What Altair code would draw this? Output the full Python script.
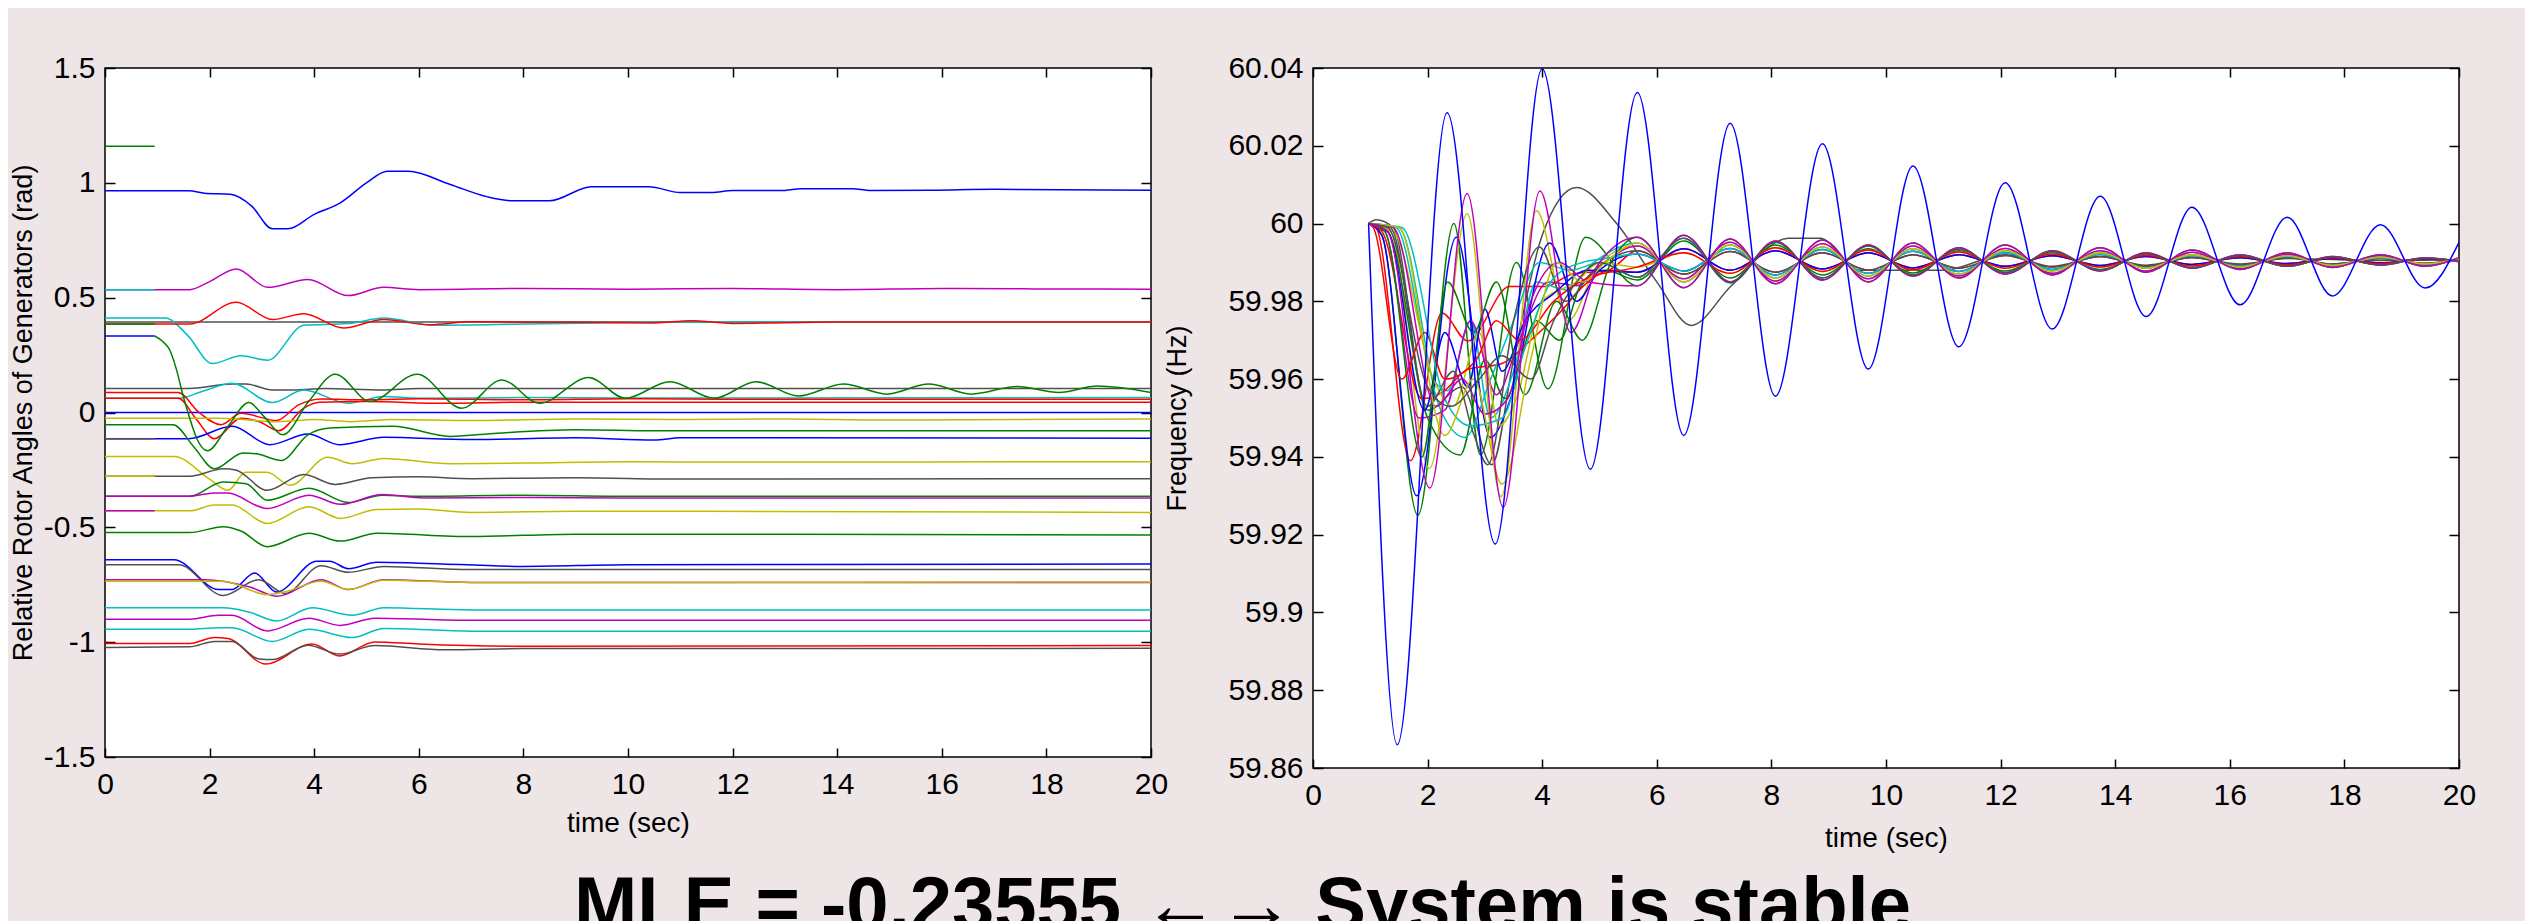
import altair as alt
import pandas as pd

BG = "#EEE5E6"
COLORS = {"b": "#0000FF", "g": "#008000", "r": "#FF0000", "c": "#00BFBF",
          "m": "#BF00BF", "y": "#BFBF00", "k": "#505050"}
FONT = "Liberation Sans"

X_TICKS = [0, 2, 4, 6, 8, 10, 12, 14, 16, 18, 20]
ANG_TICKS = [-1.5, -1.0, -0.5, 0.0, 0.5, 1.0, 1.5]
FREQ_TICKS = [59.86, 59.88, 59.90, 59.92, 59.94, 59.96, 59.98, 60.00, 60.02, 60.04]

# ---------------- Left panel: relative rotor angles (rad) ----------------
ang_green_seg = [(0, 1.159), (0.95, 1.159)]
ang_blue_top = [(0, 0.965), (1.6, 0.965), (1.9, 0.955), (2.4, 0.95), (2.8, 0.9), (3.2, 0.8), (3.5, 0.8),
                (4.0, 0.863), (4.5, 0.913), (5.0, 1.0), (5.4, 1.05), (5.8, 1.05), (6.6, 0.993), (7.3, 0.94),
                (7.8, 0.922), (8.5, 0.922), (9.3, 0.983), (10.4, 0.983), (11.0, 0.958), (11.6, 0.958),
                (12.0, 0.967), (13.0, 0.967), (13.3, 0.974), (14.3, 0.974), (14.6, 0.967), (15.8, 0.968),
                (17.0, 0.972), (20.0, 0.968)]
ang_cyan_seg = [(0, 0.535), (0.95, 0.535)]
ang_magenta_053 = [(0, 0.535), (1.62, 0.535), (2.0, 0.57), (2.51, 0.625), (3.11, 0.545), (3.88, 0.579),
                   (4.65, 0.509), (5.33, 0.545), (6.0, 0.535), (8.0, 0.54), (10.0, 0.537), (12.0, 0.54),
                   (14.0, 0.535), (16.0, 0.54), (18.0, 0.538), (20.0, 0.537)]
ang_gray_039 = [(0, 0.394), (20.0, 0.394)]
ang_cyan_041 = [(0, 0.411), (1.15, 0.411), (1.58, 0.336), (2.05, 0.213), (2.6, 0.247), (3.11, 0.228),
                (3.8, 0.38), (4.65, 0.387), (5.33, 0.411), (6.3, 0.38), (8.0, 0.385), (10.0, 0.392),
                (12.0, 0.394), (20.0, 0.394)]
ang_green_seg2 = [(0, 0.385), (0.95, 0.385)]
ang_red_0385 = [(0, 0.385), (1.62, 0.385), (2.51, 0.48), (3.2, 0.405), (3.8, 0.43), (4.56, 0.368),
                (5.33, 0.405), (6.2, 0.382), (7.0, 0.395), (9.0, 0.393), (10.5, 0.39), (11.2, 0.4),
                (12.0, 0.388), (14.0, 0.394), (20.0, 0.394)]
ang_blue_seg = [(0, 0.333), (0.95, 0.333)]
ang_green_osc = [(0.95, 0.333), (1.1, 0.31), (1.24, 0.271), (1.36, 0.192), (1.49, 0.076), (1.62, -0.025),
                 (1.75, -0.111), (1.96, -0.166), (2.35, -0.06), (2.75, 0.043), (3.05, -0.02), (3.4, -0.097),
                 (3.9, 0.05), (4.4, 0.167), (5.07, 0.048), (5.97, 0.167), (6.82, 0.019), (7.59, 0.141),
                 (8.31, 0.04), (9.25, 0.152), (9.95, 0.062), (10.8, 0.134), (11.65, 0.062), (12.45, 0.134),
                 (13.26, 0.072), (14.12, 0.124), (14.95, 0.08), (15.75, 0.124), (16.56, 0.08),
                 (17.44, 0.113), (18.24, 0.087), (18.97, 0.115), (20.0, 0.087)]
ang_gray_0105 = [(0, 0.105), (1.6, 0.105), (2.43, 0.124), (2.7, 0.124), (3.2, 0.098), (3.6, 0.098),
                 (4.2, 0.105), (5.3, 0.098), (6.0, 0.105), (20.0, 0.104)]
ang_red1 = [(0, 0.087), (1.4, 0.087), (1.8, 0.0), (2.22, -0.053), (2.6, -0.003), (3.28, -0.035),
            (3.7, 0.033), (4.13, 0.059), (5.0, 0.055), (6.0, 0.06), (8.0, 0.055), (10.0, 0.06),
            (12.0, 0.058), (20.0, 0.058)]
ang_red2 = [(0, 0.062), (1.4, 0.062), (1.75, -0.03), (2.09, -0.114), (2.6, -0.025), (2.95, -0.04),
            (3.32, -0.079), (3.8, 0.019), (4.1, 0.045), (5.0, 0.048), (6.5, 0.04), (8.0, 0.045),
            (10.0, 0.045), (20.0, 0.045)]
ang_cyan_006 = [(0, 0.062), (1.4, 0.062), (1.9, 0.095), (2.43, 0.127), (3.2, 0.043), (3.8, 0.098),
                (4.65, 0.04), (5.33, 0.07), (6.0, 0.062), (8.0, 0.065), (10.0, 0.063), (20.0, 0.065)]
ang_blue_0 = [(0, 0.0), (20.0, 0.0)]
ang_yellow_0025 = [(0, -0.025), (2.2, -0.025), (3.3, -0.04), (4.0, -0.03), (4.7, -0.04), (5.5, -0.03),
                   (7.0, -0.035), (9.0, -0.028), (11.0, -0.03), (13.0, -0.028), (15.0, -0.033), (20.0, -0.028)]
ang_green_b = [(0, -0.053), (1.3, -0.053), (1.7, -0.15), (2.09, -0.245), (2.64, -0.176), (2.9, -0.18),
               (3.37, -0.209), (3.88, -0.097), (4.3, -0.068), (5.5, -0.06), (6.6, -0.104), (7.5, -0.09),
               (9.0, -0.075), (10.5, -0.08), (12.0, -0.08), (20.0, -0.08)]
ang_gray_seg = [(0, -0.114), (0.95, -0.114)]
ang_blue_0114 = [(0, -0.114), (1.6, -0.114), (2.43, -0.06), (3.15, -0.14), (3.88, -0.094), (4.48, -0.14),
                 (5.33, -0.108), (7.0, -0.118), (9.0, -0.11), (10.5, -0.12), (11.0, -0.11), (20.0, -0.112)]
ang_yellow_0195 = [(0, -0.192), (1.32, -0.192), (2.0, -0.29), (2.35, -0.339), (2.69, -0.26), (3.1, -0.26),
                   (3.54, -0.317), (4.26, -0.195), (4.73, -0.223), (5.33, -0.2), (6.6, -0.223),
                   (8.0, -0.22), (10.0, -0.214), (12.0, -0.216), (20.0, -0.214)]
ang_yellow_seg = [(0, -0.278), (0.95, -0.278)]
ang_gray_0281 = [(0, -0.278), (1.62, -0.278), (2.26, -0.245), (2.5, -0.25), (3.1, -0.339), (3.8, -0.27),
                 (4.4, -0.313), (5.1, -0.284), (6.0, -0.28), (7.0, -0.288), (9.0, -0.284), (11.0, -0.29),
                 (20.0, -0.288)]
ang_green_0365 = [(0, -0.365), (1.62, -0.365), (2.26, -0.303), (2.7, -0.31), (3.1, -0.382), (3.9, -0.33),
                  (4.65, -0.392), (5.3, -0.36), (6.0, -0.365), (8.0, -0.36), (10.0, -0.365), (20.0, -0.365)]
ang_magenta_0365 = [(0, -0.365), (1.62, -0.365), (2.09, -0.35), (2.35, -0.351), (3.1, -0.418),
                    (3.9, -0.36), (4.5, -0.4), (5.3, -0.357), (6.1, -0.372), (8.0, -0.37), (10.0, -0.372),
                    (20.0, -0.372)]
ang_magenta_seg = [(0, -0.428), (0.95, -0.428)]
ang_yellow_0428 = [(0, -0.428), (1.62, -0.428), (2.09, -0.403), (2.43, -0.403), (3.1, -0.483),
                   (3.9, -0.41), (4.5, -0.461), (5.2, -0.422), (6.0, -0.42), (7.0, -0.435), (9.0, -0.43),
                   (20.0, -0.435)]
ang_green_0523 = [(0, -0.523), (1.62, -0.523), (2.26, -0.497), (2.6, -0.516), (3.1, -0.584), (3.9, -0.526),
                  (4.5, -0.56), (5.2, -0.526), (7.0, -0.54), (9.0, -0.53), (20.0, -0.533)]
ang_blue_0641 = [(0, -0.641), (1.32, -0.641), (2.17, -0.771), (2.43, -0.771), (2.86, -0.699),
                 (3.28, -0.782), (4.05, -0.648), (4.3, -0.648), (4.65, -0.68), (5.2, -0.652), (6.0, -0.656),
                 (8.0, -0.67), (10.0, -0.663), (20.0, -0.66)]
ang_gray_0663 = [(0, -0.663), (1.41, -0.663), (2.26, -0.797), (2.94, -0.728), (3.45, -0.788),
                 (4.13, -0.667), (4.65, -0.696), (5.33, -0.67), (7.0, -0.684), (10.0, -0.684), (20.0, -0.684)]
ang_magenta_0728 = [(0, -0.728), (1.9, -0.728), (2.77, -0.76), (3.3, -0.8), (4.13, -0.728), (4.65, -0.771),
                    (5.33, -0.728), (7.0, -0.74), (20.0, -0.74)]
ang_yellow_0735 = [(0, -0.735), (2.26, -0.735), (3.1, -0.793), (3.45, -0.78), (4.13, -0.735),
                   (4.65, -0.771), (5.33, -0.73), (7.0, -0.74), (20.0, -0.738)]
ang_cyan_085 = [(0, -0.85), (2.26, -0.85), (2.77, -0.87), (3.28, -0.908), (3.96, -0.85), (4.73, -0.883),
                (5.33, -0.85), (7.0, -0.86), (20.0, -0.86)]
ang_magenta_090 = [(0, -0.9), (1.62, -0.9), (2.17, -0.883), (2.43, -0.883), (3.1, -0.951), (3.9, -0.896),
                   (4.5, -0.927), (5.16, -0.896), (7.0, -0.905), (20.0, -0.905)]
ang_cyan_0944 = [(0, -0.944), (1.62, -0.944), (2.17, -0.937), (2.43, -0.937), (3.2, -0.997), (3.9, -0.944),
                 (4.73, -0.98), (5.33, -0.94), (7.0, -0.952), (20.0, -0.953)]
ang_red_1006 = [(0, -1.006), (1.62, -1.006), (2.09, -0.98), (2.35, -0.984), (3.07, -1.095), (3.96, -1.008),
                (4.48, -1.06), (5.16, -0.999), (6.0, -1.008), (8.0, -1.018), (20.0, -1.015)]
ang_gray_1023 = [(0, -1.023), (1.62, -1.02), (2.09, -0.997), (2.43, -0.997), (2.94, -1.073), (3.2, -1.076),
                 (3.88, -1.013), (4.48, -1.052), (5.16, -1.015), (6.5, -1.033), (8.0, -1.028), (20.0, -1.027)]

ANGLE_SERIES = [
    ("k", ang_gray_039), ("b", ang_blue_0), ("b", ang_blue_top), ("m", ang_magenta_053),
    ("c", ang_cyan_041), ("r", ang_red_0385), ("k", ang_gray_0105), ("c", ang_cyan_006),
    ("r", ang_red1), ("r", ang_red2), ("y", ang_yellow_0025), ("b", ang_blue_0114),
    ("y", ang_yellow_0195), ("k", ang_gray_0281), ("g", ang_green_0365), ("m", ang_magenta_0365),
    ("y", ang_yellow_0428), ("g", ang_green_0523), ("b", ang_blue_0641), ("k", ang_gray_0663),
    ("m", ang_magenta_0728), ("y", ang_yellow_0735), ("c", ang_cyan_085), ("m", ang_magenta_090),
    ("c", ang_cyan_0944), ("r", ang_red_1006), ("k", ang_gray_1023), ("g", ang_green_b),
    ("g", ang_green_osc), ("g", ang_green_seg), ("c", ang_cyan_seg), ("g", ang_green_seg2),
    ("b", ang_blue_seg), ("k", ang_gray_seg), ("y", ang_yellow_seg), ("m", ang_magenta_seg),
]

# ---------------- Right panel: frequency (Hz) ----------------
freq_blue_main = [(0.97, 60.0), (1.47, 59.866), (2.34, 60.0285), (3.18, 59.9176), (4.0, 60.0398),
                  (4.84, 59.9368), (5.66, 60.0337), (6.47, 59.9455), (7.28, 60.0258), (8.07, 59.9556),
                  (8.89, 60.0205), (9.69, 59.9626), (10.47, 60.0148), (11.27, 59.9683), (12.08, 60.0105),
                  (12.9, 59.9729), (13.74, 60.007), (14.54, 59.9761), (15.34, 60.0042), (16.18, 59.9791),
                  (17.0, 60.0016), (17.79, 59.9814), (18.63, 59.9997), (19.41, 59.9834), (20.0, 59.9952)]
freq_gray_slow = [(0.97, 60.0), (1.1, 60.001), (1.4, 59.999), (2.0, 59.952), (2.6, 59.958), (3.12, 59.938),
                  (3.5, 59.965), (4.0, 59.997), (4.6, 60.0093), (5.3, 60.0), (6.0, 59.985), (6.6, 59.9738),
                  (7.3, 59.984), (8.3, 59.9962), (8.85, 59.9962), (9.5, 59.988), (11.0, 59.988),
                  (12.08, 59.992), (12.9, 59.989), (13.74, 59.9915), (14.54, 59.9893), (15.34, 59.9913),
                  (16.18, 59.9896), (17.0, 59.991), (18.6, 59.9905), (20.0, 59.9906)]

LATE_T = [5.66, 6.47, 7.28, 8.07, 8.89, 9.69, 10.47, 11.27, 12.08, 12.9, 13.74, 14.54, 15.34, 16.18,
          17.0, 17.79, 18.63, 19.41, 20.0]
LATE_A1 = [59.9965, 59.9835, 59.996, 59.9845, 59.9958, 59.985, 59.995, 59.986, 59.9945, 59.9868, 59.9938,
           59.9875, 59.9932, 59.9882, 59.9925, 59.9887, 59.992, 59.989, 59.9912]
LATE_A2 = [59.995, 59.985, 59.9945, 59.986, 59.994, 59.9865, 59.9935, 59.987, 59.993, 59.9878, 59.9925,
           59.9885, 59.992, 59.9888, 59.9917, 59.9892, 59.9914, 59.9896, 59.991]
LATE_A3 = [59.993, 59.987, 59.9928, 59.9875, 59.9925, 59.988, 59.992, 59.9885, 59.9918, 59.9888, 59.9915,
           59.989, 59.9913, 59.9893, 59.9912, 59.9896, 59.991, 59.9898, 59.9907]
LATE_A4 = [59.9942, 59.9858, 59.9952, 59.9852, 59.9948, 59.9858, 59.9942, 59.9865, 59.9936, 59.9872, 59.993,
           59.9878, 59.9926, 59.9884, 59.9921, 59.9888, 59.9917, 59.9893, 59.9909]
LATE_A5 = [59.9922, 59.9878, 59.9936, 59.9868, 59.9933, 59.9872, 59.9929, 59.9877, 59.9925, 59.9882, 59.9921,
           59.9886, 59.9918, 59.989, 59.9915, 59.9893, 59.9912, 59.9896, 59.9906]
LATE_B1 = [59.984, 59.997, 59.985, 59.9955, 59.9855, 59.9945, 59.9865, 59.9938, 59.987, 59.993, 59.9878,
           59.9925, 59.9885, 59.992, 59.989, 59.9915, 59.9893, 59.9912, 59.9902]
LATE_B2 = [59.9855, 59.9955, 59.986, 59.9945, 59.9868, 59.9935, 59.9873, 59.993, 59.9878, 59.9925, 59.9882,
           59.992, 59.9887, 59.9917, 59.989, 59.9914, 59.9895, 59.9911, 59.9903]
LATE_B3 = [59.9875, 59.9935, 59.988, 59.993, 59.9883, 59.9925, 59.9886, 59.992, 59.989, 59.9917, 59.9892,
           59.9915, 59.9895, 59.9912, 59.9897, 59.991, 59.9899, 59.9909, 59.9905]
LATE_B4 = [59.9862, 59.9962, 59.9848, 59.9952, 59.986, 59.9942, 59.9868, 59.9934, 59.9874, 59.9928, 59.988,
           59.9922, 59.9886, 59.9918, 59.9891, 59.9914, 59.9894, 59.9911, 59.9904]
LATE_B5 = [59.9888, 59.9925, 59.9872, 59.9938, 59.9877, 59.9932, 59.9881, 59.9927, 59.9885, 59.9922, 59.9888,
           59.9918, 59.9891, 59.9915, 59.9894, 59.9912, 59.9897, 59.991, 59.9904]

fq_t1 = [(0.97, 60.0), (1.2, 59.997), (1.83, 59.925), (2.46, 60.0), (2.92, 59.9405), (3.55, 59.99),
         (4.1, 59.9575), (4.76, 59.9965)]
fq_t2 = [(0.97, 60.0), (1.1, 59.999), (1.7, 59.939), (2.25, 59.977), (2.7, 59.9698), (3.43, 59.9838),
         (4.05, 59.9838), (4.52, 59.987), (5.15, 59.988)]
fq_t3 = [(0.97, 60.0), (1.45, 59.999), (2.1, 59.96), (2.35, 59.957), (2.75, 59.975), (3.1, 59.95),
         (3.5, 59.962), (3.9, 59.985), (4.4, 59.983), (4.9, 59.99)]
fq_t4 = [(0.97, 60.0), (1.3, 59.998), (2.04, 59.932), (2.69, 60.0077), (3.32, 59.927), (3.96, 60.0084),
         (4.5, 59.972), (5.0, 59.99)]
fq_t5 = [(0.97, 60.0), (1.35, 59.998), (2.03, 59.937), (2.69, 60.0025), (3.28, 59.9298), (3.9, 60.0033),
         (4.45, 59.975), (5.0, 59.99)]
fq_t7 = [(0.97, 60.0), (1.2, 59.997), (1.81, 59.93), (2.5, 59.9965), (3.1, 59.945), (3.45, 59.955),
         (4.13, 59.995), (4.6, 59.98), (5.0, 59.988)]
fq_t8 = [(0.97, 60.0), (1.3, 59.998), (2.0, 59.95), (2.57, 59.9405), (3.0, 59.965), (3.35, 59.955),
         (3.9, 59.975), (4.3, 59.97), (4.7, 59.985), (5.1, 59.988)]
fq_t9 = [(0.97, 60.0), (1.2, 59.998), (1.9, 59.955), (2.26, 59.9566), (2.7, 59.9625), (3.3, 59.964),
         (3.8, 59.97), (4.3, 59.977), (4.8, 59.985), (5.2, 59.988)]
fq_t10 = [(0.97, 60.0), (1.5, 59.999), (2.2, 59.953), (2.65, 59.945), (3.1, 59.96), (3.5, 59.975),
          (3.95, 59.99), (4.5, 59.988), (5.0, 59.99)]
fq_t11 = [(0.97, 60.0), (1.25, 59.998), (1.85, 59.95), (2.3, 59.952), (2.75, 59.975), (3.2, 59.956),
          (3.6, 59.97), (4.1, 59.985), (4.6, 59.984), (5.0, 59.989)]
fq_t12 = [(0.97, 60.0), (1.4, 59.998), (2.1, 59.96), (2.45, 59.953), (2.9, 59.972), (3.25, 59.948),
          (3.55, 59.955), (4.0, 59.98), (4.6, 59.985), (5.0, 59.99)]
fq_t13 = [(0.97, 60.0), (1.35, 59.999), (2.0, 59.953), (2.45, 59.962), (2.8, 59.946), (3.05, 59.938),
          (3.5, 59.975), (3.95, 59.994), (4.4, 59.98), (4.9, 59.988)]
fq_t14 = [(0.97, 60.0), (1.3, 59.998), (1.95, 59.952), (2.3, 59.972), (2.7, 59.958), (3.0, 59.978),
          (3.3, 59.962), (3.7, 59.975), (4.2, 59.982), (4.8, 59.988)]
fq_t15 = [(0.97, 60.0), (1.25, 59.998), (1.9, 59.94), (2.35, 59.985), (2.8, 59.972), (3.2, 59.985),
          (3.7, 59.956), (4.25, 59.98), (4.7, 59.97), (5.2, 59.99)]
fq_t16 = [(0.97, 60.0), (1.05, 59.999), (1.55, 59.96), (1.95, 59.972), (2.3, 59.96), (2.85, 59.965),
          (3.2, 59.975), (3.6, 59.97), (4.2, 59.98), (4.8, 59.986)]
fq_t17 = [(0.97, 60.0), (1.55, 59.999), (2.3, 59.955), (2.75, 59.948), (3.3, 59.95), (3.7, 59.968),
          (4.2, 59.986), (4.7, 59.99), (5.1, 59.991)]
fq_t18 = [(0.97, 60.0), (1.4, 59.999), (2.15, 59.953), (2.6, 59.96), (3.0, 59.951), (3.4, 59.955),
          (3.8, 59.98), (4.3, 59.99), (4.8, 59.985)]
fq_t19 = [(0.97, 60.0), (1.5, 59.999), (2.3, 59.9455), (2.8, 59.96), (3.3, 59.933), (3.8, 59.965),
          (4.25, 59.99), (4.7, 59.985), (5.1, 59.99)]
fq_t20 = [(0.97, 60.0), (1.3, 59.999), (2.0, 59.958), (2.4, 59.953), (2.9, 59.96), (3.3, 59.966),
          (3.8, 59.96), (4.2, 59.975), (4.6, 59.985), (5.0, 59.99)]

FREQ_SERIES = [
    ("g", fq_t1, LATE_B1), ("r", fq_t2, LATE_A3), ("c", fq_t3, LATE_A2), ("y", fq_t5, LATE_A4),
    ("b", fq_t7, LATE_A5), ("g", fq_t8, LATE_B2), ("r", fq_t9, LATE_B3), ("c", fq_t10, LATE_B4),
    ("m", fq_t11, LATE_A4), ("y", fq_t12, LATE_B5), ("k", fq_t13, LATE_A3), ("b", fq_t14, LATE_B3),
    ("g", fq_t15, LATE_A1), ("r", fq_t16, LATE_B5), ("c", fq_t17, LATE_A5), ("m", fq_t18, LATE_B1),
    ("y", fq_t19, LATE_A2), ("k", fq_t20, LATE_B4), ("m", fq_t4, LATE_A1),
]

# ---------------- build tables ----------------
ang_rows = []
for i, (col, pts) in enumerate(ANGLE_SERIES):
    for t, v in pts:
        ang_rows.append({"s": f"a{i}", "c": COLORS[col], "t": t, "v": v})
ang_df = pd.DataFrame(ang_rows)

fq_rows = []
for t, v in freq_gray_slow:
    fq_rows.append({"s": "fk", "c": COLORS["k"], "t": t, "v": v})
for i, (col, trans, late) in enumerate(FREQ_SERIES):
    for t, v in list(trans) + list(zip(LATE_T, late)):
        fq_rows.append({"s": f"f{i}", "c": COLORS[col], "t": t, "v": v})
for t, v in freq_blue_main:
    fq_rows.append({"s": "fb", "c": COLORS["b"], "t": t, "v": v})
fq_df = pd.DataFrame(fq_rows)

LABEL_EXPR = "replace(format(datum.value, '.2~f'), '\u2212', '-')"


def panel(df, ydom, yticks, ytitle, w, h, ytitle_pad, xtitle_pad):
    xs = alt.Scale(domain=[0, 20], nice=False, zero=False)
    ys = alt.Scale(domain=ydom, nice=False, zero=False)
    lines = alt.Chart(df).mark_line(strokeWidth=1.5, interpolate="monotone", clip=True).encode(
        x=alt.X("t:Q", scale=xs, axis=alt.Axis(
            values=X_TICKS, orient="bottom", offset=-9, tickSize=9, tickColor="black", tickWidth=1.5,
            domain=False, grid=False, labelPadding=12, labelExpr=LABEL_EXPR, labelFlush=False,
            title="time (sec)", titlePadding=xtitle_pad)),
        y=alt.Y("v:Q", scale=ys, axis=alt.Axis(
            values=yticks, orient="left", offset=-10, tickSize=10, tickColor="black", tickWidth=1.5,
            domain=False, grid=False, labelPadding=10, labelExpr=LABEL_EXPR, labelFlush=False,
            title=ytitle, titlePadding=ytitle_pad, titleFontSize=27)),
        color=alt.Color("c:N", scale=None),
        detail="s:N",
    )
    ticks2 = alt.Chart(df).mark_point(opacity=0, size=1).encode(
        x=alt.X("t:Q", scale=xs, axis=alt.Axis(
            values=X_TICKS, orient="top", offset=-9, tickSize=9, tickColor="black", tickWidth=1.5,
            domain=False, grid=False, labels=False, title=None)),
        y=alt.Y("v:Q", scale=ys, axis=alt.Axis(
            values=yticks, orient="right", offset=-10, tickSize=10, tickColor="black", tickWidth=1.5,
            domain=False, grid=False, labels=False, title=None)),
    )
    return alt.layer(lines, ticks2).resolve_axis(x="independent", y="independent").properties(
        width=w, height=h)


left = panel(ang_df, [-1.5, 1.5], ANG_TICKS, "Relative Rotor Angles of Generators (rad)", 1046, 689, 6, 10)
right = panel(fq_df, [59.86, 60.04], FREQ_TICKS, "Frequency (Hz)", 1146, 700, 36, 14)

chart = alt.hconcat(left, right, spacing=162, bounds="flush").properties(
    background=BG,
    padding={"left": 0, "top": 44, "right": 48, "bottom": 0},
    title=alt.TitleParams(
        text="MLE = -0.23555 \u2190\u2192 System is stable", orient="bottom", anchor="middle",
        fontSize=76, fontWeight="bold", font=FONT, color="black", offset=17),
).configure_view(
    stroke="black", strokeWidth=1.5, fill="white"
).configure_axis(
    labelFont=FONT, labelFontSize=30, labelColor="black", titleFont=FONT, titleFontSize=28,
    titleFontWeight="normal", titleColor="black",
)

chart.save("out.html", embed_options={"renderer": "svg", "actions": False})
